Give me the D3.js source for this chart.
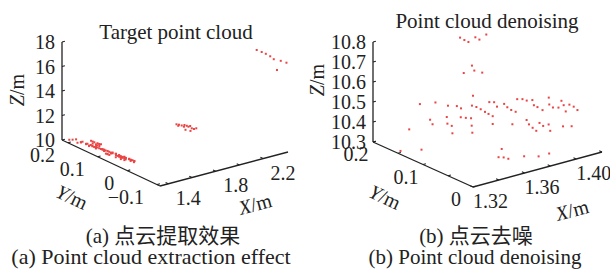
<!DOCTYPE html>
<html>
<head>
<meta charset="utf-8">
<script src="https://cdn.jsdelivr.net/npm/d3@7"></script>
<style>
  body { margin: 0; background: #fff; }
  text { font-family: "Liberation Serif", "Times New Roman", "Noto Sans CJK SC", serif; fill: #222; }
</style>
</head>
<body>
<div id="chart"></div>
<script>
// denoised point cloud (X, Y, Z in metres)
var denoiseX = [1.3623, 1.3637, 1.3649, 1.3664, 1.3676, 1.3710, 1.3657, 1.3632, 1.3656, 1.3698,
  1.3665, 1.3442, 1.3486, 1.3507, 1.3526, 1.3529, 1.3578, 1.3583, 1.3578, 1.3583,
  1.3568, 1.3598, 1.3611, 1.3609, 1.3629, 1.3650, 1.3655, 1.3660, 1.3657, 1.3672,
  1.3686, 1.3700, 1.3708, 1.3714, 1.3732, 1.3735, 1.3721, 1.3721, 1.3771, 1.3776,
  1.3787, 1.3802, 1.3814, 1.3816, 1.3849, 1.3854, 1.3866, 1.3874, 1.3894, 1.3796,
  1.3848, 1.3847, 1.3856, 1.3865, 1.3890, 1.3899, 1.3922, 1.3915, 1.3923, 1.3927,
  1.3936, 1.3940, 1.3963, 1.3961, 1.3977, 1.3986, 1.4000, 1.4029, 1.3956, 1.3984,
  1.3413, 1.3479, 1.3752, 1.3747, 1.3767, 1.3784, 1.3829, 1.3883, 1.3926];
var denoiseY = [0.135, 0.130, 0.125, 0.115, 0.110, 0.105, 0.120, 0.130, 0.115, 0.110,
  0.120, 0.190, 0.180, 0.165, 0.165, 0.160, 0.150, 0.150, 0.140, 0.140,
  0.145, 0.135, 0.130, 0.130, 0.125, 0.120, 0.120, 0.120, 0.120, 0.115,
  0.110, 0.105, 0.100, 0.100, 0.095, 0.090, 0.095, 0.095, 0.085, 0.080,
  0.075, 0.070, 0.070, 0.060, 0.060, 0.050, 0.050, 0.045, 0.040, 0.075,
  0.060, 0.055, 0.050, 0.045, 0.045, 0.040, 0.035, 0.030, 0.035, 0.035,
  0.030, 0.020, 0.020, 0.015, 0.015, 0.010, 0.005, 0.005, 0.015, 0.005,
  0.200, 0.175, 0.085, 0.090, 0.085, 0.080, 0.060, 0.045, 0.035];
var denoiseZ = [10.821, 10.812, 10.806, 10.838, 10.830, 10.855, 10.692, 10.648, 10.673, 10.661,
  10.540, 10.332, 10.462, 10.397, 10.371, 10.485, 10.415, 10.381, 10.382, 10.344,
  10.479, 10.483, 10.475, 10.431, 10.430, 10.430, 10.392, 10.356, 10.492, 10.488,
  10.480, 10.470, 10.464, 10.522, 10.524, 10.507, 10.456, 10.417, 10.520, 10.508,
  10.498, 10.492, 10.553, 10.564, 10.551, 10.564, 10.536, 10.531, 10.518, 10.425,
  10.454, 10.438, 10.425, 10.414, 10.449, 10.438, 10.447, 10.422, 10.581, 10.546,
  10.535, 10.545, 10.575, 10.559, 10.525, 10.563, 10.556, 10.534, 10.454, 10.461,
  10.218, 10.241, 10.298, 10.252, 10.253, 10.249, 10.276, 10.283, 10.301];

// other extracted clusters (left panel only)
var midX = [1.870, 1.891, 1.914, 1.933, 1.9375, 1.957, 1.971, 1.9856, 1.999, 2.0176, 2.037, 1.946, 1.988, 1.885];
var midY = [0.05, 0.05, 0.05, 0.05, 0.05, 0.05, 0.05, 0.05, 0.05, 0.05, 0.05, 0.05, 0.05, 0.05];
var midZ = [11.829, 11.742, 11.618, 11.470, 11.598, 11.482, 11.372, 11.393, 11.171, 11.065, 11.073, 11.185, 10.986, 11.667];

var farX = [2.196, 2.238, 2.273, 2.310, 2.340, 2.399, 2.422, 2.367];
var farY = [-0.09, -0.09, -0.09, -0.09, -0.09, -0.09, -0.10, -0.09];
var farZ = [18.649, 18.377, 18.141, 17.842, 17.527, 17.244, 17.145, 16.575];

// ticks
var leftXTicks = [1.4, 1.6, 1.8, 2.0, 2.2];
var leftXLabels = ["1.4", "", "1.8", "", "2.2"];
var leftYTicks = [-0.1, 0, 0.1, 0.2];
var leftYLabels = ["\u22120.1", "0", "0.1", "0.2"];
var leftZTicks = [10, 12, 14, 16, 18];
var leftZLabels = ["10", "12", "14", "16", "18"];

var rightXTicks = [1.32, 1.34, 1.36, 1.38, 1.40, 1.42];
var rightXLabels = ["1.32", "", "1.36", "", "1.40", ""];
var rightYTicks = [0, 0.05, 0.1, 0.15, 0.2];
var rightYLabels = ["0", "", "0.1", "", "0.2"];
var rightZTicks = [10.3, 10.4, 10.5, 10.6, 10.7, 10.8];
var rightZLabels = ["10.3", "10.4", "10.5", "10.6", "10.7", "10.8"];

var svg = d3.select("#chart").append("svg")
    .attr("width", 610)
    .attr("height", 270);

function makeProj(cfg) {
    var fx = d3.scaleLinear().domain(cfg.xDom).range([0, 1]);
    var fy = d3.scaleLinear().domain(cfg.yDom).range([0, 1]);
    var fz = d3.scaleLinear().domain(cfg.zDom).range([0, 1]);
    return function(x, y, z) {
        var a = fx(x), b = fy(y), c = fz(z);
        return [cfg.o[0] + a * cfg.u[0] + b * cfg.v[0] + c * cfg.w[0],
                cfg.o[1] + a * cfg.u[1] + b * cfg.v[1] + c * cfg.w[1]];
    };
}

function unit(v, len) {
    var n = Math.sqrt(v[0] * v[0] + v[1] * v[1]);
    return [v[0] / n * len, v[1] / n * len];
}

function drawPanel(cfg) {
    var p = makeProj(cfg);
    var g = svg.append("g");
    var x0 = cfg.xDom[0], x1 = cfg.xDom[1];
    var y0 = cfg.yDom[0], y1 = cfg.yDom[1];
    var z0 = cfg.zDom[0], z1 = cfg.zDom[1];

    // axis lines
    var axes = [[p(x0, y1, z0), p(x0, y1, z1)],
                [p(x0, y0, z0), p(x0, y1, z0)],
                [p(x0, y0, z0), p(x1, y0, z0)]];
    g.selectAll("line.axis").data(axes).enter().append("line")
        .attr("class", "axis")
        .attr("x1", function(d) { return d[0][0]; })
        .attr("y1", function(d) { return d[0][1]; })
        .attr("x2", function(d) { return d[1][0]; })
        .attr("y2", function(d) { return d[1][1]; })
        .attr("stroke", "#222")
        .attr("stroke-width", 1.3);

    var tu = unit(cfg.u, 3), tv = unit(cfg.v, 3);

    // Z ticks
    cfg.zTicks.forEach(function(t, i) {
        var q = p(x0, y1, t);
        g.append("line")
            .attr("x1", q[0]).attr("y1", q[1])
            .attr("x2", q[0] + tu[0]).attr("y2", q[1] + tu[1])
            .attr("stroke", "#222").attr("stroke-width", 1.1);
        g.append("text")
            .attr("x", q[0] - 7).attr("y", q[1])
            .attr("text-anchor", "end")
            .attr("dominant-baseline", "central")
            .style("font-size", cfg.fs + "px")
            .text(cfg.zLabels[i]);
    });

    // Y ticks
    cfg.yTicks.forEach(function(t, i) {
        var q = p(x0, t, z0);
        g.append("line")
            .attr("x1", q[0]).attr("y1", q[1])
            .attr("x2", q[0] + tu[0]).attr("y2", q[1] + tu[1])
            .attr("stroke", "#222").attr("stroke-width", 1.1);
        g.append("text")
            .attr("x", q[0] + cfg.yOff[0]).attr("y", q[1] + cfg.yOff[1])
            .attr("text-anchor", cfg.yAnchor)
            .attr("dominant-baseline", "central")
            .style("font-size", cfg.fs + "px")
            .text(cfg.yLabels[i]);
    });

    // X ticks
    cfg.xTicks.forEach(function(t, i) {
        var q = p(t, y0, z0);
        g.append("line")
            .attr("x1", q[0]).attr("y1", q[1])
            .attr("x2", q[0] + tv[0]).attr("y2", q[1] + tv[1])
            .attr("stroke", "#222").attr("stroke-width", 1.1);
        g.append("text")
            .attr("x", q[0] + cfg.xOff[0]).attr("y", q[1] + cfg.xOff[1])
            .attr("text-anchor", "middle")
            .attr("dominant-baseline", "central")
            .style("font-size", cfg.fs + "px")
            .text(cfg.xLabels[i]);
    });

    // axis names
    var names = [["X", cfg.xName], ["Y", cfg.yName], ["Z", cfg.zName]];
    names.forEach(function(n) {
        var t = g.append("text")
            .attr("transform", "translate(" + n[1][0] + "," + n[1][1] + ") rotate(" + n[1][2] + ")")
            .attr("text-anchor", "middle")
            .attr("dominant-baseline", "central")
            .style("font-size", cfg.fs + "px");
        t.append("tspan").style("font-style", "italic").text(n[0]);
        t.append("tspan").text("/m");
    });

    // title
    g.append("text")
        .attr("x", cfg.title[1]).attr("y", cfg.title[2])
        .attr("text-anchor", "middle")
        .style("font-size", "21px")
        .text(cfg.title[0]);

    // points
    cfg.sets.forEach(function(s) {
        g.append("g").selectAll("rect")
            .data(d3.range(s[0].length))
            .enter().append("rect")
            .attr("x", function(i) { return p(s[0][i], s[1][i], s[2][i])[0] - 1; })
            .attr("y", function(i) { return p(s[0][i], s[1][i], s[2][i])[1] - 1; })
            .attr("width", 2)
            .attr("height", 2)
            .attr("fill", "#ea4545");
    });

    // captions
    cfg.captions.forEach(function(c) {
        g.append("text")
            .attr("x", c[1]).attr("y", c[2])
            .attr("text-anchor", "middle")
            .style("font-size", c[3] + "px")
            .text(c[0]);
    });
}

drawPanel({
    o: [160, 186], u: [128, -34], v: [-98, -46], w: [0, -98],
    xDom: [1.33, 2.41], yDom: [-0.11, 0.22], zDom: [10, 18],
    xTicks: leftXTicks, xLabels: leftXLabels,
    yTicks: leftYTicks, yLabels: leftYLabels,
    zTicks: leftZTicks, zLabels: leftZLabels,
    yOff: [-13, 12], yAnchor: "end", xOff: [20, 14], fs: 20,
    xName: [255, 204, -15], yName: [72, 197, 25], zName: [17, 90, -90],
    title: ["Target point cloud", 176, 39],
    sets: [[denoiseX, denoiseY, denoiseZ], [midX, midY, midZ], [farX, farY, farZ]],
    captions: [["(a) 点云提取效果", 163, 243, 21], ["(a) Point cloud extraction effect", 151, 264, 22]]
});

drawPanel({
    o: [473, 187], u: [129, -35], v: [-100, -45], w: [0, -100],
    xDom: [1.32, 1.42], yDom: [0, 0.2], zDom: [10.3, 10.8],
    xTicks: rightXTicks, xLabels: rightXLabels,
    yTicks: rightYTicks, yLabels: rightYLabels,
    zTicks: rightZTicks, zLabels: rightZLabels,
    yOff: [-17, 12], yAnchor: "middle", xOff: [17.5, 14], fs: 20,
    xName: [572, 210, -15], yName: [385, 197, 25], zName: [317, 80, -90],
    title: ["Point cloud denoising", 487, 28],
    sets: [[denoiseX, denoiseY, denoiseZ]],
    captions: [["(b) 点云去噪", 476, 243, 21], ["(b) Point cloud denoising", 475, 264, 21]]
});
</script>
</body>
</html>
